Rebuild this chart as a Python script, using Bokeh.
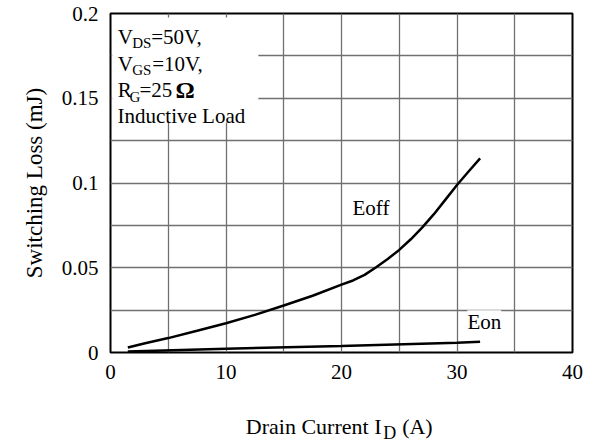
from bokeh.plotting import figure
from bokeh.layouts import column
from bokeh.models import Range1d, FixedTicker, Label, BoxAnnotation, CustomJSTickFormatter
from bokeh.embed import file_html
from bokeh.resources import INLINE

# ---- data ----
eoff_current = [1.5, 3, 5, 7.5, 10, 12.5, 15, 17.5, 20, 21, 22, 23, 24, 25, 26, 27, 28, 29, 30, 31, 32]
eoff_loss = [0.003, 0.0055, 0.0085, 0.0128, 0.0173, 0.0222, 0.0277, 0.0335, 0.040, 0.0425, 0.0458,
             0.0503, 0.0552, 0.0605, 0.0668, 0.0738, 0.0816, 0.0902, 0.0988, 0.1068, 0.1145]
eon_current = [1.5, 10, 20, 30, 32]
eon_loss = [0.0006, 0.0022, 0.0039, 0.0057, 0.0063]
x_ticks = [0, 10, 20, 30, 40]
y_ticks = [0, 0.05, 0.1, 0.15, 0.2]
x_grid = [0, 5, 10, 15, 20, 25, 30, 35, 40]
y_grid = [0, 0.025, 0.05, 0.075, 0.1, 0.125, 0.15, 0.175, 0.2]

FONT = "Liberation Serif"

p = figure(width=594, height=410, output_backend="svg", toolbar_location=None, title=None,
           x_range=Range1d(0, 40), y_range=Range1d(0, 0.2),
           min_border_left=110, min_border_right=22, min_border_top=13, min_border_bottom=58)
p.background_fill_color = "white"
p.border_fill_color = "white"
p.outline_line_color = "black"
p.outline_line_width = 2
p.outline_line_alpha = 1

p.xaxis.ticker = FixedTicker(ticks=x_ticks)
p.yaxis.ticker = FixedTicker(ticks=y_ticks)
p.yaxis.formatter = CustomJSTickFormatter(code="return String(tick);")
p.xgrid.ticker = FixedTicker(ticks=x_grid)
p.ygrid.ticker = FixedTicker(ticks=y_grid)
for g in (p.xgrid, p.ygrid):
    g.grid_line_color = "#707070"
    g.grid_line_width = 1.3

for ax in (p.xaxis, p.yaxis):
    ax.axis_line_color = None
    ax.major_tick_line_color = None
    ax.minor_tick_line_color = None
    ax.major_tick_out = 0
    ax.major_tick_in = 0
    ax.major_label_text_font = FONT
    ax.major_label_text_font_size = "21px"
    ax.major_label_text_color = "black"
p.xaxis.major_label_standoff = 12
p.yaxis.major_label_standoff = 12
p.yaxis.axis_label = "Switching Loss (mJ)"
p.yaxis.axis_label_text_font = FONT
p.yaxis.axis_label_text_font_size = "23px"
p.yaxis.axis_label_text_font_style = "normal"
p.yaxis.axis_label_text_color = "black"
p.yaxis.axis_label_standoff = 12

# white box behind the conditions text
p.add_layout(BoxAnnotation(left=0.15, right=12.8, bottom=0.1357, top=0.1976,
                           fill_color="white", fill_alpha=1, line_color=None, level="underlay"))

p.line(eoff_current, eoff_loss, line_color="black", line_width=2.5)
p.line(eon_current, eon_loss, line_color="black", line_width=2.5)

def lab(fig, text, x, y, size="21px", align="left", style="normal", bg=None):
    kw = {}
    if bg:
        kw["background_fill_color"] = bg
    fig.add_layout(Label(x=x, y=y, text=text, text_font=FONT, text_font_size=size,
                         text_align=align, text_baseline="alphabetic", text_color="black",
                         text_font_style=style, **kw))

# conditions text
lab(p, "V", 0.63, 0.1864); lab(p, "DS", 1.88, 0.1825, "15px"); lab(p, "=50V,", 3.52, 0.1864)
lab(p, "V", 0.63, 0.1703); lab(p, "GS", 1.88, 0.1664, "15px"); lab(p, "=10V,", 3.61, 0.1703)
lab(p, "R", 0.63, 0.1546); lab(p, "G", 1.65, 0.1506, "15px"); lab(p, "=25", 2.51, 0.1546)
lab(p, "\u03a9", 5.63, 0.1546, "24px", style="bold")
lab(p, "Inductive Load", 0.61, 0.1398)

# curve labels
lab(p, "Eoff", 20.95, 0.085)
lab(p, "Eon", 30.9, 0.0179, bg="white")

# x axis title (with subscript) in a strip below the chart; shares the x scale
t = figure(width=594, height=31, output_backend="svg", toolbar_location=None,
           title=None, x_range=p.x_range, y_range=Range1d(0, 31),
           x_axis_type=None, y_axis_type=None,
           min_border_left=110, min_border_right=22, min_border_top=0, min_border_bottom=0)
t.outline_line_color = None
t.background_fill_color = "white"
t.border_fill_color = "white"
lab(t, "Drain Current I", 23.46, 15, "22px", align="right")
lab(t, "D", 23.61, 9, "18px")
lab(t, "(A)", 25.25, 15, "22px")

layout = column(p, t, spacing=0)
open("out.html", "w").write(file_html(layout, INLINE))
